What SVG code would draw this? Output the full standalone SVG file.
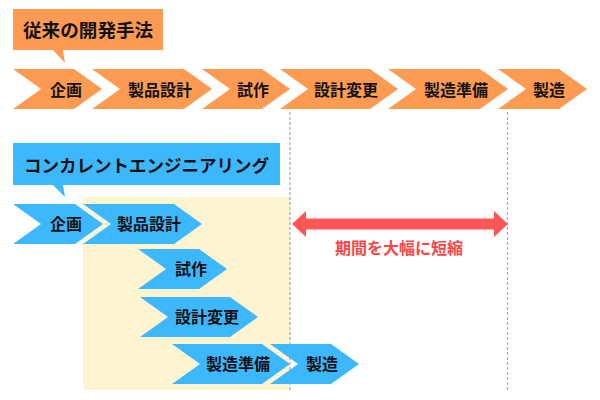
<svg xmlns="http://www.w3.org/2000/svg" width="600" height="400" viewBox="0 0 600 400">
<defs>
<style>
.o{fill:#FF9A52}
.b{fill:#3DB8FF}
.t{font-family:"Noto Sans CJK JP","Noto Sans",sans-serif;font-weight:bold;fill:#111;text-anchor:middle;font-size:16px}
.h{font-family:"Noto Sans CJK JP","Noto Sans",sans-serif;font-weight:bold;fill:#111;font-size:18.6px}
.d{stroke:#AAAAAA;stroke-width:1.2;stroke-dasharray:3 2;fill:none}
</style>
</defs>
<rect width="600" height="400" fill="#fff"/>
<rect x="83" y="197" width="207" height="193" fill="#FFF4D0"/>
<g id="connectors">
<line class="d" x1="290" y1="112" x2="290" y2="390"/>
<line class="d" x1="507.5" y1="112" x2="507.5" y2="390"/>
<path d="M292,224 L306,211 V218.5 H494 V211 L508,224 L494,237 V229.5 H306 V237 Z" fill="#FF5555"/>
<text x="399" y="254" class="t" style="fill:#FF4545">期間を大幅に短縮</text>
</g>
<g id="title-conventional">
<path class="o" d="M13,9 H163 V50 H63 L65,63 L53,50 H13 Z"/>
<text x="23" y="37" class="h">従来の開発手法</text>
</g>
<g id="c1"><path class="o" d="M13,69H74L102,89L74,109H13L41,89Z"/><text x="66" y="96" class="t">企画</text></g>
<g id="c2"><path class="o" d="M92,69H184L212,89L184,109H92L120,89Z"/><text x="160" y="96" class="t">製品設計</text></g>
<g id="c3"><path class="o" d="M202,69H262L290,89L262,109H202L230,89Z"/><text x="253" y="96" class="t">試作</text></g>
<g id="c4"><path class="o" d="M280,69H370L398,89L370,109H280L308,89Z"/><text x="346" y="96" class="t">設計変更</text></g>
<g id="c5"><path class="o" d="M388,69H480L508,89L480,109H388L416,89Z"/><text x="456" y="96" class="t">製造準備</text></g>
<g id="c6"><path class="o" d="M498,69H559L587,89L559,109H498L526,89Z"/><text x="549" y="96" class="t">製造</text></g>
<g id="title-concurrent">
<path class="b" d="M13,143 H280 V185 H63 L65,197 L53,185 H13 Z"/>
<text x="24" y="172" class="h" style="font-size:17.5px">コンカレントエンジニアリング</text>
</g>
<g id="b1"><path class="b" d="M13,204H75L103,224L75,244H13L41,224Z"/><text x="66" y="230" class="t">企画</text></g>
<g id="b2"><path class="b" d="M83,204H174L202,224L174,244H83L111,224Z"/><text x="149" y="230" class="t">製品設計</text></g>
<g id="b3"><path class="b" d="M138,249H199L227,269L199,289H138L166,269Z"/><text x="191" y="275" class="t">試作</text></g>
<g id="b4"><path class="b" d="M140,297H230L258,317L230,337H140L168,317Z"/><text x="207" y="323" class="t">設計変更</text></g>
<g id="b5"><path class="b" d="M172,344H262L290,364L262,384H172L200,364Z"/><text x="238" y="370" class="t">製造準備</text></g>
<g id="b6"><path class="b" d="M270,344H331L359,364L331,384H270L298,364Z"/><text x="322" y="370" class="t">製造</text></g>
</svg>
